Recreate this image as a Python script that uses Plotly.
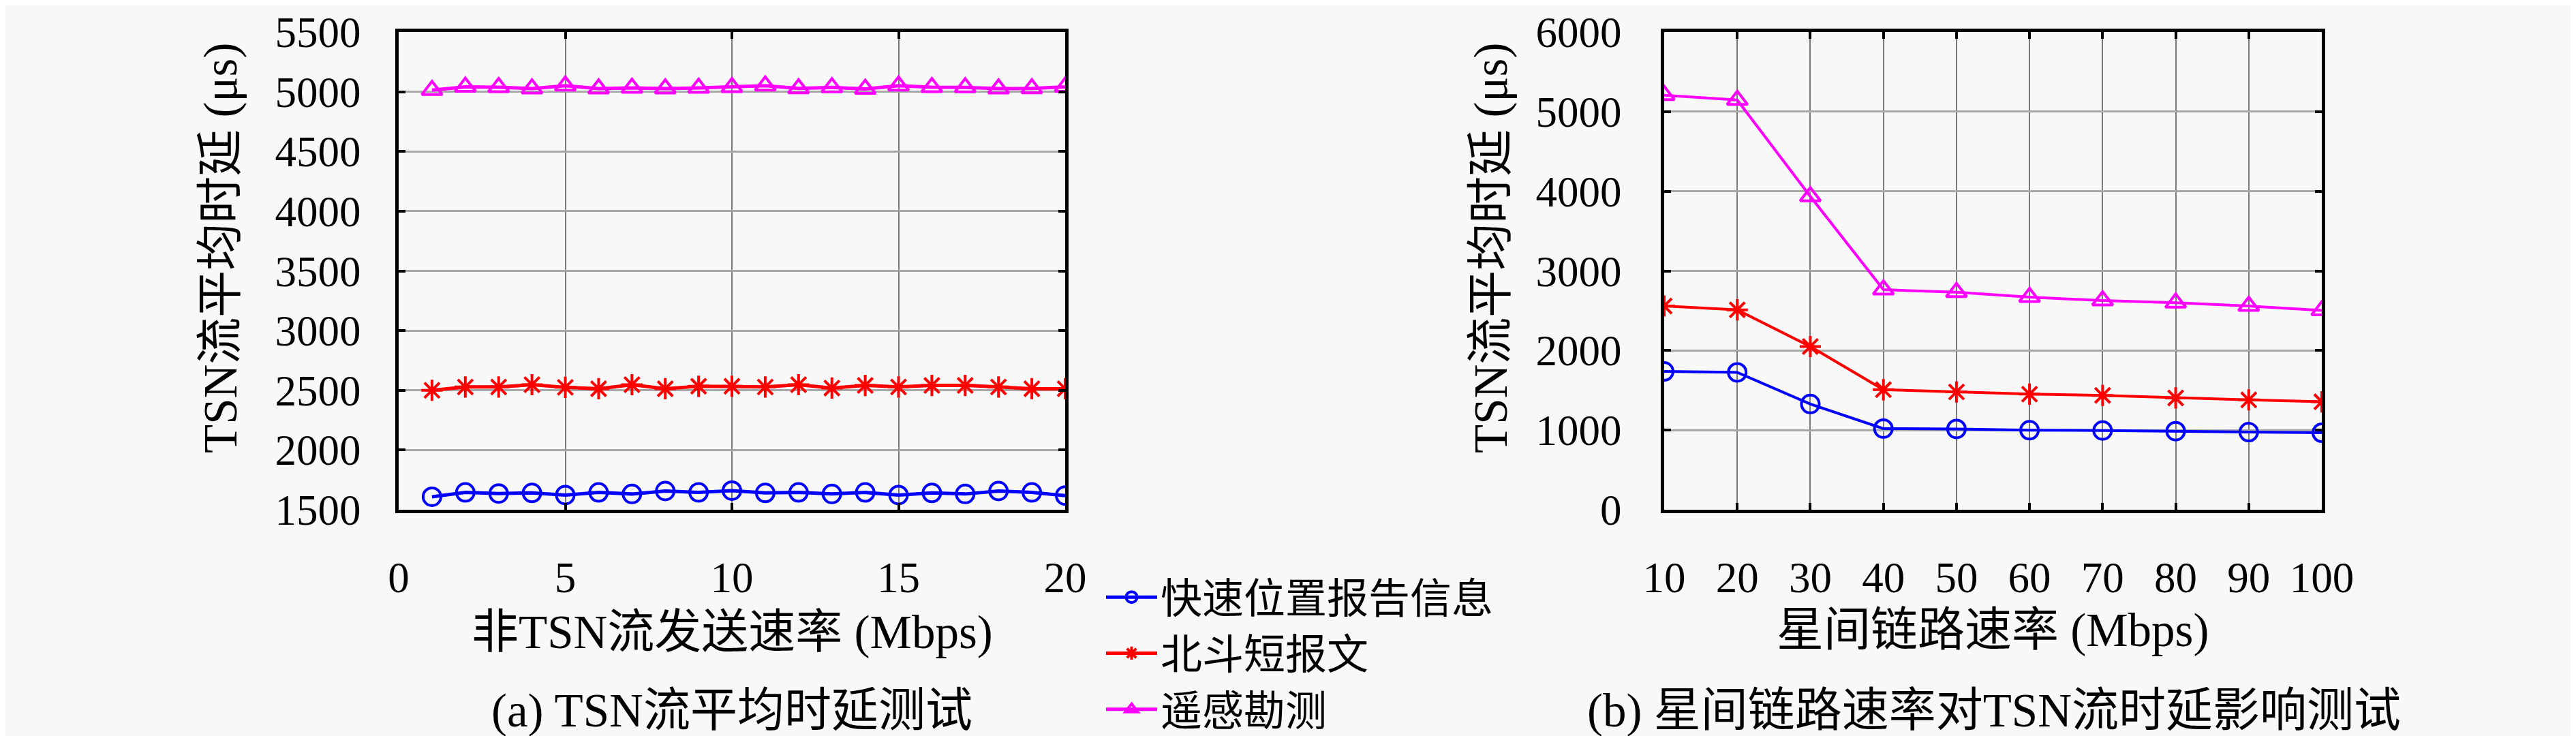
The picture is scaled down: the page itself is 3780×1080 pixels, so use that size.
import plotly.graph_objects as go

# (a) non-TSN sending rate test
rate_a = list(range(1, 21))
fast_a = [1609, 1645, 1636, 1641, 1623, 1645, 1632, 1657, 1645, 1660,
          1641, 1645, 1632, 1645, 1623, 1641, 1632, 1657, 1645, 1619]
beidou_a = [2500, 2528, 2528, 2547, 2525, 2513, 2547, 2513, 2534, 2534,
            2528, 2547, 2519, 2541, 2528, 2541, 2541, 2528, 2513, 2513]
remote_a = [5013, 5041, 5038, 5026, 5051, 5026, 5032, 5026, 5032, 5038,
            5051, 5028, 5036, 5023, 5051, 5038, 5036, 5026, 5028, 5041]

# (b) inter-satellite link rate test
rate_b = [10, 20, 30, 40, 50, 60, 70, 80, 90, 100]
fast_b = [1737, 1725, 1328, 1019, 1015, 999, 995, 987, 975, 967]
beidou_b = [2559, 2511, 2050, 1508, 1480, 1452, 1436, 1404, 1380, 1356]
remote_b = [5207, 5146, 3935, 2764, 2732, 2671, 2627, 2599, 2559, 2503]

ticks_xa = [0, 5, 10, 15, 20]
ticks_ya = [1500, 2000, 2500, 3000, 3500, 4000, 4500, 5000, 5500]
ticks_yb = [0, 1000, 2000, 3000, 4000, 5000, 6000]

names = ['快速位置报告信息', '北斗短报文', '遥感勘测']
colors = ['#0000ff', '#ff0000', '#ff00ff']
symbols = ['circle-open', 'asterisk-open', 'triangle-up-open']

FONT = '"Liberation Serif", "Noto Sans CJK SC", serif'
BG = '#f8f8f8'

# plot area in pixels (top is nudged down a little so the top tick label fits)
TOP, BOTTOM = 39, 740

fig = go.Figure()

for i, ys in enumerate([fast_a, beidou_a, remote_a]):
    fig.add_trace(go.Scatter(
        x=rate_a, y=ys, name=names[i], mode='lines+markers',
        line=dict(color=colors[i], width=5),
        marker=dict(symbol=symbols[i], size=26, color=colors[i],
                    line=dict(color=colors[i], width=4)),
        xaxis='x', yaxis='y', showlegend=True
    ))

for i, ys in enumerate([fast_b, beidou_b, remote_b]):
    fig.add_trace(go.Scatter(
        x=rate_b, y=ys, name=names[i], mode='lines+markers',
        line=dict(color=colors[i], width=4),
        marker=dict(symbol=symbols[i], size=26, color=colors[i],
                    line=dict(color=colors[i], width=4)),
        xaxis='x2', yaxis='y2', showlegend=False
    ))

axis_common = dict(
    showline=True, linecolor='black', linewidth=5, mirror='allticks',
    ticks='inside', ticklen=10, tickwidth=4, tickcolor='black',
    showgrid=True, zeroline=False, automargin=False,
    ticklabeloverflow='allow',
    tickfont=dict(family=FONT, size=63, color='black'),
)

fig.update_layout(
    width=3780, height=1080,
    margin=dict(l=0, r=0, t=0, b=0, autoexpand=False),
    paper_bgcolor=BG, plot_bgcolor=BG,
    font=dict(family=FONT, size=63, color='black'),
    xaxis=dict(domain=[577 / 3780, 1555 / 3780], range=[0, 20],
               tickvals=ticks_xa, anchor='y',
               gridcolor='#7a7a7a', gridwidth=2, ticklabelstandoff=40,
               **axis_common),
    yaxis=dict(domain=[1 - BOTTOM / 1080, 1 - TOP / 1080], range=[1500, 5500],
               tickvals=ticks_ya, anchor='x',
               gridcolor='#a8a8a8', gridwidth=3, ticklabelstandoff=38,
               **axis_common),
    xaxis2=dict(domain=[2434 / 3780, 3399 / 3780], range=[10, 100],
                tickvals=rate_b, anchor='y2',
                gridcolor='#7a7a7a', gridwidth=2, ticklabelstandoff=40,
                **axis_common),
    yaxis2=dict(domain=[1 - BOTTOM / 1080, 1 - TOP / 1080], range=[0, 6000],
                tickvals=ticks_yb, anchor='x2',
                gridcolor='#a8a8a8', gridwidth=3, ticklabelstandoff=45,
                **axis_common),
    legend=dict(
        x=1610 / 3780, y=1 - 822 / 1080, xanchor='left', yanchor='top',
        bgcolor='rgba(0,0,0,0)', borderwidth=0, itemwidth=75,
        font=dict(family=FONT, size=61, color='black'),
    ),
)

# axis titles and captions
texts = [
    (316 / 3780, 1 - 356 / 1080, 'TSN流平均时延 (μs)', -90),
    (2180 / 3780, 1 - 356 / 1080, 'TSN流平均时延 (μs)', -90),
    (1066 / 3780, 1 - 920 / 1080, '非TSN流发送速率 (Mbps)', 0),
    (2916 / 3780, 1 - 917 / 1080, '星间链路速率 (Mbps)', 0),
    (1066 / 3780, 1 - 1035 / 1080, '(a) TSN流平均时延测试', 0),
    (2918 / 3780, 1 - 1035 / 1080, '(b) 星间链路速率对TSN流时延影响测试', 0),
]
for x, y, t, ang in texts:
    fig.add_annotation(
        x=x, y=y, xref='paper', yref='paper', text=t, showarrow=False,
        textangle=ang, xanchor='center', yanchor='middle',
        font=dict(family=FONT, size=69, color='black')
    )

fig.write_html('out.html')
